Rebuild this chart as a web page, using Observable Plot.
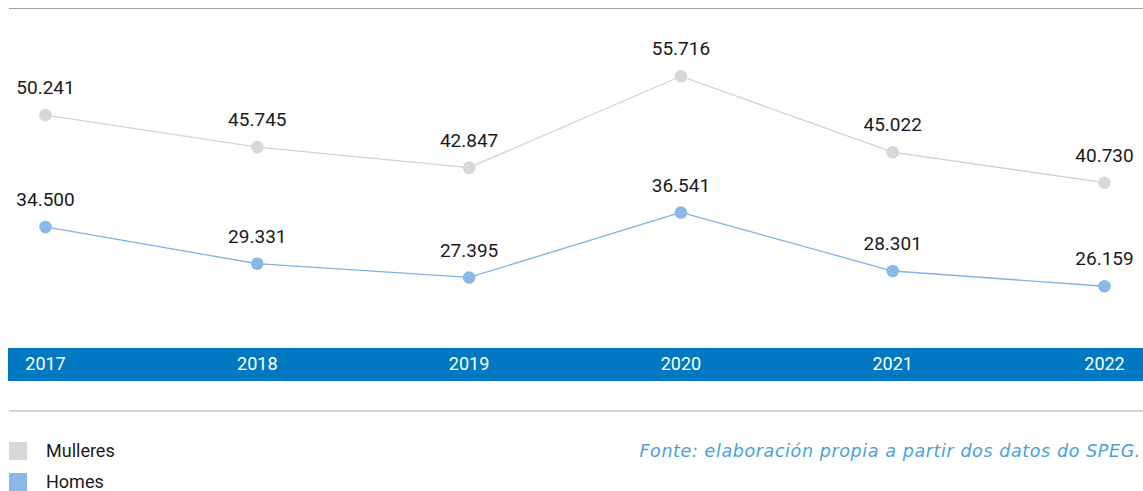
<!DOCTYPE html>
<html>
<head>
<meta charset="utf-8">
<script src="https://cdn.jsdelivr.net/npm/d3@7"></script>
<script src="https://cdn.jsdelivr.net/npm/@observablehq/plot@0.6"></script>
<style>
  html, body { margin: 0; padding: 0; background: #ffffff; }
  #wrap { position: relative; width: 1143px; height: 491px; overflow: hidden; font-family: Roboto, "Noto Sans", sans-serif; }
  #chart { position: absolute; left: 0; top: 0; }
  .leg { position: absolute; left: 9px; display: flex; align-items: center; font-size: 18px; line-height: 18px; height: 18px; color: #1a1a1a; }
  .leg .sw { width: 18px; height: 18px; margin-right: 19px; flex: none; }
  #source { position: absolute; right: 2px; top: 441px; font-family: "DejaVu Sans", sans-serif; font-style: italic; font-size: 17.5px; letter-spacing: 0.6px; line-height: 20px; color: #4aa0da; white-space: nowrap; }
</style>
</head>
<body>
<div id="wrap">
  <div id="chart"></div>
  <div id="legend"></div>
  <div id="source"></div>
</div>
<script>
const years = [2017, 2018, 2019, 2020, 2021, 2022];
const mulleres = [50241, 45745, 42847, 55716, 45022, 40730];
const homes = [34500, 29331, 27395, 36541, 28301, 26159];
const seriesNames = ["Mulleres", "Homes"];
const sourceText = "Fonte: elaboración propia a partir dos datos do SPEG.";

const lineColors = { Mulleres: "#d2d2d2", Homes: "#7fb3e6" };
const dotColors = { Mulleres: "#d6d7d6", Homes: "#8ab9e7" };

const data = [];
years.forEach((y, i) => {
  data.push({ year: y, value: mulleres[i], series: "Mulleres" });
  data.push({ year: y, value: homes[i], series: "Homes" });
});

const fmt = d3.formatLocale({ decimal: ",", thousands: ".", grouping: [3], currency: ["", "€"] }).format(",d");

const W = 1143, H = 420;
const plot = Plot.plot({
  width: W,
  height: H,
  marginLeft: 0,
  marginRight: 0,
  marginTop: 0,
  marginBottom: 72,
  x: { type: "linear", domain: [2017, 2022], range: [45, 1104] },
  y: { domain: [20000, 60000], range: [329.5, 45.3], axis: null },
  style: { fontFamily: "Roboto, 'Noto Sans', sans-serif", background: "transparent", overflow: "visible" },
  marks: [
    Plot.line(data, { x: "year", y: "value", z: "series", stroke: d => lineColors[d.series], strokeWidth: 1.3 }),
    Plot.dot(data, { x: "year", y: "value", r: 6.3, fill: d => dotColors[d.series], stroke: "none" }),
    Plot.text(data, { x: "year", y: "value", text: d => fmt(d.value), dy: -27, fontSize: 19, fill: "#1a1a1a" }),
    Plot.axisX({ ticks: years, tickFormat: d => String(d), tickSize: 0, tickPadding: 9, color: "white", fontSize: 18, label: null })
  ]
});
document.getElementById("chart").appendChild(plot);

const svg = d3.select(plot);
svg.insert("rect", ":first-child")
  .attr("x", 8).attr("y", 348).attr("width", W - 8).attr("height", 33).attr("fill", "#0079c2");
svg.insert("line", ":first-child")
  .attr("x1", 9).attr("x2", W).attr("y1", 8.5).attr("y2", 8.5).attr("stroke", "#a3a3a3").attr("stroke-width", 1);
svg.insert("line", ":first-child")
  .attr("x1", 9).attr("x2", W).attr("y1", 411).attr("y2", 411).attr("stroke", "#d4d4d4").attr("stroke-width", 2);

const legend = document.getElementById("legend");
seriesNames.forEach((name, i) => {
  const item = document.createElement("div");
  item.className = "leg";
  item.style.top = (442 + i * 31) + "px";
  const sw = document.createElement("div");
  sw.className = "sw";
  sw.style.background = dotColors[name];
  const lab = document.createElement("span");
  lab.textContent = name;
  item.appendChild(sw);
  item.appendChild(lab);
  legend.appendChild(item);
});
document.getElementById("source").textContent = sourceText;
</script>
</body>
</html>
